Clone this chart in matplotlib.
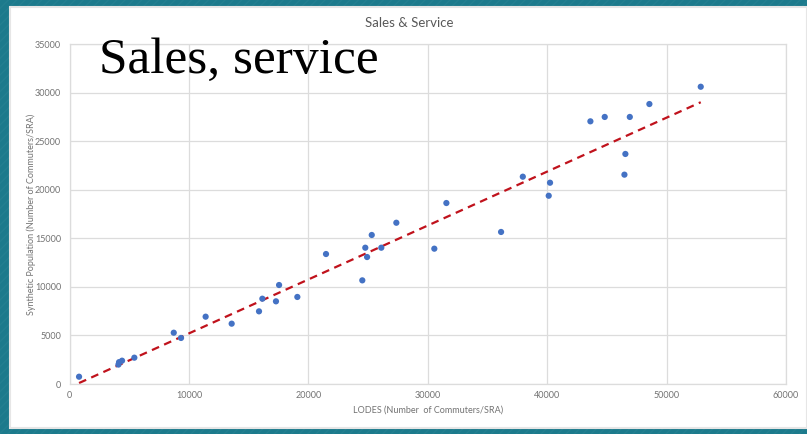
import numpy as np
import matplotlib
matplotlib.use("Agg")
import matplotlib.pyplot as plt
from matplotlib.patches import Rectangle

# LODES commuters per SRA vs. synthetic population commuters per SRA
lodes = [800, 4100, 4150, 4400, 5430, 8730, 9340, 11400, 13580, 15870,
         16150, 17290, 17550, 19080, 21480, 24520, 24770, 24920, 25310,
         26110, 27370, 30550, 31560, 36140, 37960, 40130, 40240, 43620,
         44820, 46470, 46550, 46920, 48560, 52860]
synthetic = [750, 2000, 2250, 2400, 2710, 5280, 4740, 6930, 6210, 7480,
             8780, 8510, 10190, 8960, 13380, 10670, 14030, 13070, 15340,
             14030, 16600, 13930, 18630, 15650, 21340, 19380, 20720, 27040,
             27490, 21550, 23680, 27490, 28820, 30600]

x_ticks = [0, 10000, 20000, 30000, 40000, 50000, 60000]
y_ticks = [0, 5000, 10000, 15000, 20000, 25000, 30000, 35000]

title = "Sales & Service"
slide_title = "Sales, service"
x_label = "LODES (Number  of Commuters/SRA)"
y_label = "Synthetic Population (Number of Commuters/SRA)"

W, H = 807, 434
fig = plt.figure(figsize=(W / 100, H / 100), dpi=100)
fig.patch.set_facecolor("#1c7a8c")

# striped teal frame and white slide panel
frame = Rectangle((0, 0), 1, 1, transform=fig.transFigure, facecolor="#1c7a8c",
                  edgecolor="#237f90", hatch="////", linewidth=0, zorder=-3)
fig.add_artist(frame)
panel = Rectangle((10 / W, (H - 428) / H), (W - 10) / W, (428 - 7) / H,
                  transform=fig.transFigure, facecolor="white",
                  edgecolor="#e6e6e6", linewidth=1.5, zorder=-2)
fig.add_artist(panel)

ax = fig.add_axes([69.5 / W, (H - 384) / H, (786 - 69.5) / W, (384 - 44) / H])
ax.set_facecolor("none")

grid_c = "#dcdcdc"
tick_c = "#737373"
label_font = ["Lato", "DejaVu Sans"]

ax.scatter(lodes, synthetic, s=20, color="#4472c4", edgecolors="none", zorder=3)

# linear trendline over the data range
coef = np.polyfit(lodes, synthetic, 1)
xs = np.array([min(lodes), max(lodes)])
ax.plot(xs, np.polyval(coef, xs), linestyle=(0, (3.5, 2.5)), color="#c0121c",
        linewidth=1.6, zorder=2)

ax.set_xlim(x_ticks[0], x_ticks[-1])
ax.set_ylim(y_ticks[0], y_ticks[-1])
ax.set_xticks(x_ticks)
ax.set_yticks(y_ticks)
ax.set_xticklabels([str(v) for v in x_ticks], fontsize=6.5, color=tick_c, family=label_font)
ax.set_yticklabels([str(v) for v in y_ticks], fontsize=6.5, color=tick_c, family=label_font)
ax.tick_params(length=0)
ax.tick_params(axis="y", pad=6)
ax.tick_params(axis="x", pad=5)
ax.grid(True, color=grid_c, linewidth=0.9)
ax.set_axisbelow(True)
for side, sp in ax.spines.items():
    sp.set_color(grid_c)
    sp.set_linewidth(0.9)

fig.text(409 / W, (H - 23) / H, title, ha="center", va="center", fontsize=9.5,
         color="#595959", family=label_font)
fig.text(428 / W, (H - 410) / H, x_label, ha="center", va="center", fontsize=6.5,
         color=tick_c, family=label_font)
fig.text(31 / W, (H - 214) / H, y_label, ha="center", va="center", rotation=90,
         fontsize=6.5, color=tick_c, family=label_font)
fig.text(99 / W, (H - 73) / H, slide_title, ha="left", va="baseline", fontsize=37,
         color="black", family=["Liberation Serif", "DejaVu Serif"])

fig.savefig("out.png", dpi=100, facecolor=fig.get_facecolor())
